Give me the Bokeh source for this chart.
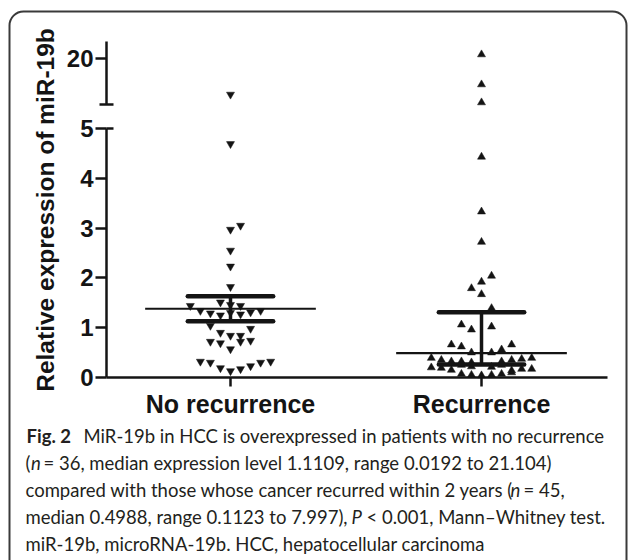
import math
from bokeh.plotting import figure
from bokeh.models import (Range1d, LinearAxis, FixedTicker, Label, BoxAnnotation,
                          ColumnDataSource)
from bokeh.embed import file_html
from bokeh.resources import INLINE

# ---------------- data ----------------
groups = ["No recurrence", "Recurrence"]

no_rec_values = [11.35, 4.69, 3.05, 2.97, 2.55, 2.23, 1.82,
                 1.51, 1.44, 1.44, 1.46, 1.34, 1.29, 1.25, 1.30, 1.27, 1.31, 1.34,
                 1.04, 0.98,
                 0.90, 0.84, 0.84,
                 0.72, 0.69, 0.57, 0.72, 0.74,
                 0.32, 0.30, 0.19, 0.13, 0.17, 0.23, 0.30, 0.32]
no_rec_slots = [0, 0, 1, 0, 0, 0, 0,
                -1, -4, 1, 0, -3, -2, -1, 0, 1, 2, 3,
                -2, 2,
                -1, 0, 1,
                -2, -1, 0, 1, 2,
                -3, -2, -1, 0, 1, 2, 3, 4]

rec_values = [21.04, 13.77, 9.41, 4.43, 3.33, 2.72,
              2.04, 1.92, 1.79, 1.67, 1.39,
              1.06, 0.96, 1.02,
              0.66, 0.62, 0.66,
              0.50, 0.50, 0.56,
              0.39, 0.35, 0.32, 0.32, 0.30, 0.32, 0.35, 0.37, 0.39,
              0.25, 0.22, 0.21, 0.25,
              0.20, 0.19, 0.15, 0.14, 0.17, 0.17,
              0.07, 0.05, 0.04, 0.05, 0.07, 0.10]
rec_slots = [0, 0, 0, 0, 0, 0,
             1, 0, -1, 0, 1,
             -2, -1, 1,
             -3, -2, 3,
             -1, 1, 2,
             -5, -4, -3, -2, -1, 2, 3, 4, 5,
             -2, -1, 1, 2,
             -5, -4, -3, 3, 4, 5,
             -2, -1, 0, 1, 2, 3]

center_line = [1.38, 0.49]
bar_upper = [1.63, 1.31]
bar_lower = [1.13, 0.26]

lower_ticks = [0, 1, 2, 3, 4, 5]
upper_ticks = [20]
lower_segment_top = 5
upper_segment_bottom = 9
upper_segment_top = 24.26

caption_lines = [
    [("Fig. 2", "bold", 26), ("MiR-19b in HCC is overexpressed in patients with no recurrence", "normal", 83)],
    [("(", "normal", 25), ("n", "italic", 30.5), ("= 36, median expression level 1.1109, range 0.0192 to 21.104)", "normal", 43)],
    [("compared with those whose cancer recurred within 2 years (", "normal", 25), ("n", "italic", 510), ("= 45,", "normal", 523)],
    [("median 0.4988, range 0.1123 to 7.997),", "normal", 25), ("P", "italic", 351), ("< 0.001, Mann\u2013Whitney test.", "normal", 366)],
    [("miR-19b, microRNA-19b. HCC, hepatocellular carcinoma", "normal", 25)],
]
caption_baselines = [125, 98, 70.5, 43.5, 16.5]

# ---------------- figure ----------------
W, H = 629, 560
XL, XR = -0.9163, 1.5896          # whole canvas in category units
AXIS_X = -0.494                   # y axes sit here
X_END = 1.502
slot_w = 0.04
ink = "#141414"

p = figure(width=W, height=H, x_range=Range1d(XL, XR), y_range=Range1d(-3.675, 7.570),
           output_backend="svg", toolbar_location=None, title=None,
           min_border_left=0, min_border_right=0, min_border_top=0, min_border_bottom=0)
p.extra_y_ranges = {"top": Range1d(-101.57, 34.127)}
p.outline_line_color = None
p.xgrid.visible = False
p.ygrid.visible = False
p.background_fill_color = "white"
p.border_fill_color = "white"


def style_axis(ax, out=11, inn=0, labels=True, size="24px"):
    ax.axis_line_width = 2.5
    ax.axis_line_color = ink
    ax.major_tick_line_width = 2.5
    ax.major_tick_line_color = ink
    ax.major_tick_out = out
    ax.major_tick_in = inn
    ax.minor_tick_line_color = None
    ax.major_label_text_font = "Liberation Sans"
    ax.major_label_text_font_style = "bold"
    ax.major_label_text_font_size = size
    ax.major_label_text_color = ink
    if not labels:
        ax.major_label_text_alpha = 0


# lower y axis
ya = p.yaxis[0]
ya.ticker = FixedTicker(ticks=lower_ticks)
ya.bounds = (0, lower_segment_top)
ya.fixed_location = AXIS_X
style_axis(ya)
ya.major_label_standoff = 2

cap_lo = LinearAxis(ticker=FixedTicker(ticks=[lower_segment_top]), fixed_location=AXIS_X)
style_axis(cap_lo, out=0, inn=7, labels=False)
cap_lo.axis_line_color = None
p.add_layout(cap_lo, "left")

# upper y axis
ua = LinearAxis(y_range_name="top", ticker=FixedTicker(ticks=upper_ticks), fixed_location=AXIS_X,
                bounds=(upper_segment_bottom, upper_segment_top))
style_axis(ua)
ua.major_label_standoff = 2
p.add_layout(ua, "left")

cap_hi = LinearAxis(y_range_name="top", ticker=FixedTicker(ticks=[upper_segment_bottom]),
                    fixed_location=AXIS_X)
style_axis(cap_hi, out=7, inn=7, labels=False)
cap_hi.axis_line_color = None
p.add_layout(cap_hi, "left")

# x axis
xa = p.xaxis[0]
xa.ticker = FixedTicker(ticks=[0, 1])
xa.major_label_overrides = {0: groups[0], 1: groups[1]}
xa.fixed_location = 0
xa.bounds = (AXIS_X, X_END)
style_axis(xa, out=9, size="25px")
xa.major_label_standoff = 4

# points
markers = ["inverted_triangle", "triangle"]
for gi, (vals, slots) in enumerate([(no_rec_values, no_rec_slots), (rec_values, rec_slots)]):
    lo = dict(x=[], y=[])
    hi = dict(x=[], y=[])
    for v, s in zip(vals, slots):
        d = hi if v > lower_segment_top else lo
        d["x"].append(gi + s * slot_w)
        d["y"].append(v)
    p.scatter(x="x", y="y", source=ColumnDataSource(lo), marker=markers[gi], size=8,
              fill_color=ink, line_color=ink, line_width=0.5)
    p.scatter(x="x", y="y", source=ColumnDataSource(hi), marker=markers[gi], size=8,
              fill_color=ink, line_color=ink, line_width=0.5, y_range_name="top")

# summary lines
gx = [0, 1]
p.segment(x0=[g - 0.34 for g in gx], x1=[g + 0.34 for g in gx], y0=center_line, y1=center_line,
          line_width=2.2, line_color=ink)
p.segment(x0=gx, x1=gx, y0=bar_lower, y1=bar_upper, line_width=3.5, line_color=ink)
p.segment(x0=[g - 0.17 for g in gx], x1=[g + 0.17 for g in gx], y0=bar_upper, y1=bar_upper,
          line_width=4.5, line_color=ink, line_cap="round")
p.segment(x0=[g - 0.17 for g in gx], x1=[g + 0.17 for g in gx], y0=bar_lower, y1=bar_lower,
          line_width=4.5, line_color=ink, line_cap="round")

# y axis label
p.add_layout(Label(x=45, y=350.5, x_units="screen", y_units="screen",
                   text="Relative expression of miR-19b", angle=math.pi / 2,
                   text_font="Liberation Sans", text_font_style="bold", text_font_size="24.5px",
                   text_color=ink, text_align="center", text_baseline="alphabetic"))

# caption
for line, yb in zip(caption_lines, caption_baselines):
    for txt, style, xs in line:
        p.add_layout(Label(x=xs, y=yb, x_units="screen", y_units="screen", text=txt,
                           text_font="Lato", text_font_style=style, text_font_size="18.5px",
                           text_color="#231f20", text_align="left", text_baseline="alphabetic"))

# rounded frame around figure
p.add_layout(BoxAnnotation(left=9, right=626, top=549, bottom=-60,
                           left_units="screen", right_units="screen",
                           top_units="screen", bottom_units="screen",
                           fill_color=None, fill_alpha=0, line_color="#3a3a3a",
                           line_alpha=1, line_width=2, border_radius=14))

open("out.html", "w").write(file_html(p, INLINE))
